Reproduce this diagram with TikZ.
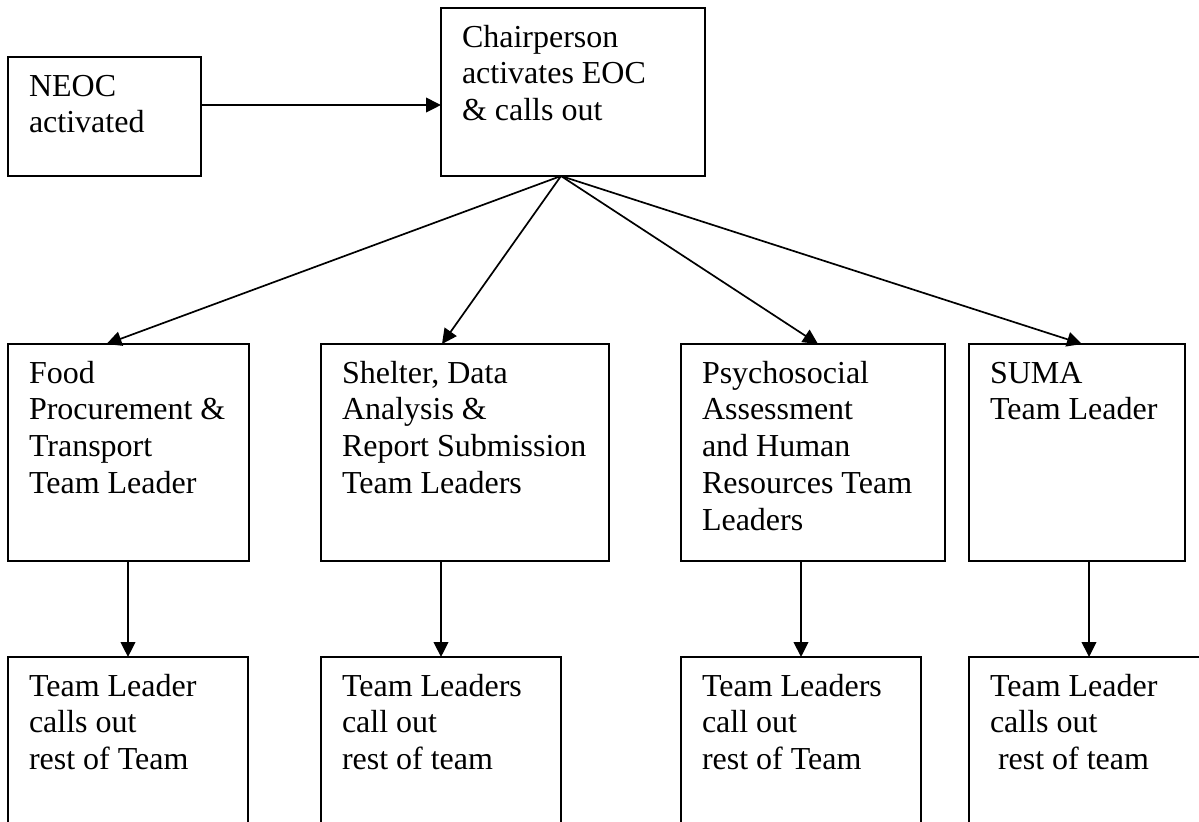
\documentclass[tikz,border=0pt]{standalone}
\usepackage{fontspec}
\setmainfont{Liberation Serif}
\usetikzlibrary{arrows.meta}
\newcommand{\bxt}[3]{\parbox[c][#2][t]{#1}{\raggedright\leftskip=10.5pt\rule{0pt}{19.5pt}#3}}
\begin{document}
\begin{tikzpicture}[x=0.5pt,y=-0.5pt,
  box/.style={draw, rectangle, line width=0.9pt, inner sep=0pt, outer sep=0pt, anchor=north west,
    font=\fontsize{16pt}{18.4pt}\selectfont},
  arr/.style={draw, line width=0.85pt, -{Triangle[length=7.5pt,width=7.3pt]}}]
\useasboundingbox (0,0) rectangle (1199,821);
\fill[white] (0,0) rectangle (1199,821);
\clip (0,0) rectangle (1199,821);
% top row
\node[box] (neoc) at (8,57) {\bxt{96.5pt}{59.5pt}{NEOC\\activated}};
\node[box] (chair) at (441,8) {\bxt{132pt}{84pt}{Chairperson\\activates EOC\\\& calls out}};
% second row
\node[box] (food) at (8,344) {\bxt{120.5pt}{108.5pt}{Food\\Procurement \&\\Transport\\Team Leader}};
\node[box] (shelter) at (321,344) {\bxt{144pt}{108.5pt}{Shelter, Data\\Analysis \&\\Report Submission\\Team Leaders}};
\node[box] (psych) at (681,344) {\bxt{132pt}{108.5pt}{Psychosocial\\Assessment\\and Human\\Resources Team\\Leaders}};
\node[box] (suma) at (969,344) {\bxt{108pt}{108.5pt}{SUMA\\Team Leader}};
% third row
\node[box] (food3) at (8,657) {\bxt{120pt}{101.5pt}{Team Leader\\calls out\\rest of Team}};
\node[box] (shelter3) at (321,657) {\bxt{120pt}{101.5pt}{Team Leaders\\call out\\rest of team}};
\node[box] (psych3) at (681,657) {\bxt{120pt}{101.5pt}{Team Leaders\\call out\\rest of Team}};
\node[box] (suma3) at (969,657) {\bxt{120pt}{101.5pt}{Team Leader\\calls out\\\hspace*{4pt}rest of team}};
% connectors
\draw[arr] ([yshift=5.75pt]neoc.east) -- ([yshift=5.75pt]neoc.east -| chair.west);
\coordinate (fan) at ([xshift=-6pt]chair.south);
\draw[arr] (fan) -- ([xshift=-11pt]food.north);
\draw[arr] (fan) -- ([xshift=-11.5pt]shelter.north);
\draw[arr] (fan) -- ([xshift=2.5pt]psych.north);
\draw[arr] (fan) -- ([xshift=2.5pt]suma.north);
\draw[arr] (food.south -| food3.north) -- (food3.north);
\draw[arr] (shelter.south -| shelter3.north) -- (shelter3.north);
\draw[arr] (psych.south -| psych3.north) -- (psych3.north);
\draw[arr] (suma.south -| suma3.north) -- (suma3.north);
\end{tikzpicture}
\end{document}
